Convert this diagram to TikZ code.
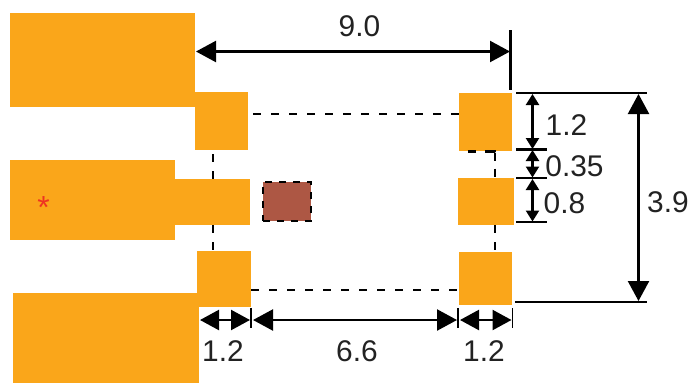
\documentclass[tikz,border=0pt]{standalone}
\usepackage{fontspec}
\setmainfont{Liberation Sans}
\usetikzlibrary{arrows.meta,calc}
\definecolor{padc}{HTML}{FAA61A}
\definecolor{chipc}{HTML}{AD5744}
\definecolor{txt}{HTML}{222222}
\definecolor{starc}{HTML}{EE3322}
\newcommand{\boxnode}[6]{% style, name, x1, y1, x2, y2
  \node[#1,minimum width={(#5-#3)*1bp},minimum height={(#6-#4)*1bp}] (#2) at ({(#3+#5)/2},{(#4+#6)/2}) {};}
\tikzset{
  x=1bp,y=-1bp,
  pad/.style={rectangle,fill=padc,draw=none,inner sep=0pt,outer sep=0pt},
  chip/.style={rectangle,fill=chipc,draw=black,line width=2.4bp,dash pattern=on 7bp off 7bp,inner sep=0pt,outer sep=0pt},
  dashline/.style={draw=black,line width=2.3bp,dash pattern=on 8bp off 10bp},
  ext/.style={draw=black,line width=2.3bp},
  dimbig/.style={draw=black,line width=2.3bp,{Triangle[length=20bp,width=21bp]}-{Triangle[length=20bp,width=21bp]}},
  dimmid/.style={draw=black,line width=2.3bp,{Triangle[length=19bp,width=20bp]}-{Triangle[length=19bp,width=20bp]}},
  dimsmall/.style={draw=black,line width=2.3bp,{Triangle[length=11bp,width=13bp]}-{Triangle[length=11bp,width=13bp]}},
  dimlabel/.style={font=\fontsize{30}{31}\selectfont,text=txt,inner sep=0pt},
}
\begin{document}
\begin{tikzpicture}
\useasboundingbox (0,0) rectangle (689,383);
% leads
\boxnode{pad}{bigtop}{10}{13}{195}{107}
\boxnode{pad}{bigmid}{10}{160}{175}{240}
\boxnode{pad}{neck}{174}{179}{249.5}{225}
\boxnode{pad}{bigbot}{13}{293}{199}{383}
% pads
\boxnode{pad}{tl}{195}{92}{248}{150}
\boxnode{pad}{bl}{197}{251}{251}{307}
\boxnode{pad}{tr}{459}{93}{512}{151}
\boxnode{pad}{mr}{457.5}{178}{513.5}{225}
\boxnode{pad}{br}{459}{252}{512}{305}
\boxnode{chip}{die}{263}{182}{311}{221}
% outline
\coordinate (c1) at (253,114); \coordinate (c2) at (459,114);
\coordinate (c3) at (213,154); \coordinate (c4) at (213,179);
\coordinate (c5) at (213,225); \coordinate (c6) at (213,251);
\coordinate (c7) at (251,290); \coordinate (c8) at (459,290);
\coordinate (c9) at (468,151.5); \coordinate (c10) at (495,151.5);
\coordinate (c11) at (495,178); \coordinate (c12) at (495,225); \coordinate (c13) at (495,252);
\draw[dashline] (c1) -- (c2);
\draw[dashline,dash pattern=on 8bp off 9bp] (c3) -- (c4);
\draw[dashline,dash pattern=on 8bp off 9bp] (c5) -- (c6);
\draw[dashline] (c7) -- (c8);
\draw[dashline,dash pattern=on 8bp off 9bp on 10bp off 1bp on 8bp off 8bp on 8bp off 8bp] (c9) -- (c10) -- (c11);
\draw[dashline,dash pattern=on 8bp off 9bp] (c12) -- (c13);
% extension lines
\coordinate (e1a) at (516,93); \coordinate (e1b) at (647,93);
\coordinate (e2a) at (516,149.5); \coordinate (e2b) at (547,149.5);
\coordinate (e3a) at (516,178); \coordinate (e3b) at (547,178);
\coordinate (e4a) at (516,222); \coordinate (e4b) at (547,222);
\coordinate (e5a) at (515,302); \coordinate (e5b) at (647,302);
\coordinate (t1a) at (510.5,30); \coordinate (t1b) at (510.5,90);
\foreach \a/\b in {e1a/e1b,e2a/e2b,e3a/e3b,e4a/e4b,e5a/e5b,t1a/t1b}{\draw[ext] (\a) -- (\b);}
\coordinate (t2a) at (251,308); \coordinate (t2b) at (251,328);
\coordinate (t3a) at (458,308); \coordinate (t3b) at (458,328);
\coordinate (t4a) at (512.5,308); \coordinate (t4b) at (512.5,328);
\foreach \a/\b in {t2a/t2b,t3a/t3b,t4a/t4b}{\draw[ext,line width=1.6bp] (\a) -- (\b);}
% dimensions
\coordinate (d9a) at (196,51.5); \coordinate (d9b) at (510,51.5);
\draw[dimbig] (d9a) -- (d9b);
\coordinate (d39a) at (638.5,94); \coordinate (d39b) at (638.5,301);
\draw[dimbig] (d39a) -- (d39b);
\coordinate (d12a) at (532.5,94); \coordinate (d12b) at (532.5,149);
\draw[dimsmall] (d12a) -- (d12b);
\coordinate (d35a) at (532.5,150); \coordinate (d35b) at (532.5,177.5);
\draw[dimsmall] (d35a) -- (d35b);
\coordinate (d8a) at (532.5,179); \coordinate (d8b) at (532.5,221.5);
\draw[dimsmall] (d8a) -- (d8b);
\coordinate (bl1) at (200,320); \coordinate (bl2) at (250,320);
\draw[dimmid] (bl1) -- (bl2);
\coordinate (bm1) at (253,320); \coordinate (bm2) at (457,320);
\draw[dimbig] (bm1) -- (bm2);
\coordinate (br1) at (460,320); \coordinate (br2) at (511.5,320);
\draw[dimmid] (br1) -- (br2);
% labels
\node[dimlabel] (l9) at (359.5,26) {9.0};
\node[dimlabel] (l12r) at (566.5,125) {1.2};
\node[dimlabel] (l35) at (574.5,166) {0.35};
\node[dimlabel] (l8) at (564.5,203) {0.8};
\node[dimlabel] (l39) at (668,202) {3.9};
\node[dimlabel] (l12a) at (223,351) {1.2};
\node[dimlabel] (l66) at (357,351) {6.6};
\node[dimlabel] (l12b) at (484,351) {1.2};
\node[font=\fontsize{32}{33}\selectfont,text=starc,inner sep=0pt] (star) at (43.5,208) {*};
\end{tikzpicture}
\end{document}
